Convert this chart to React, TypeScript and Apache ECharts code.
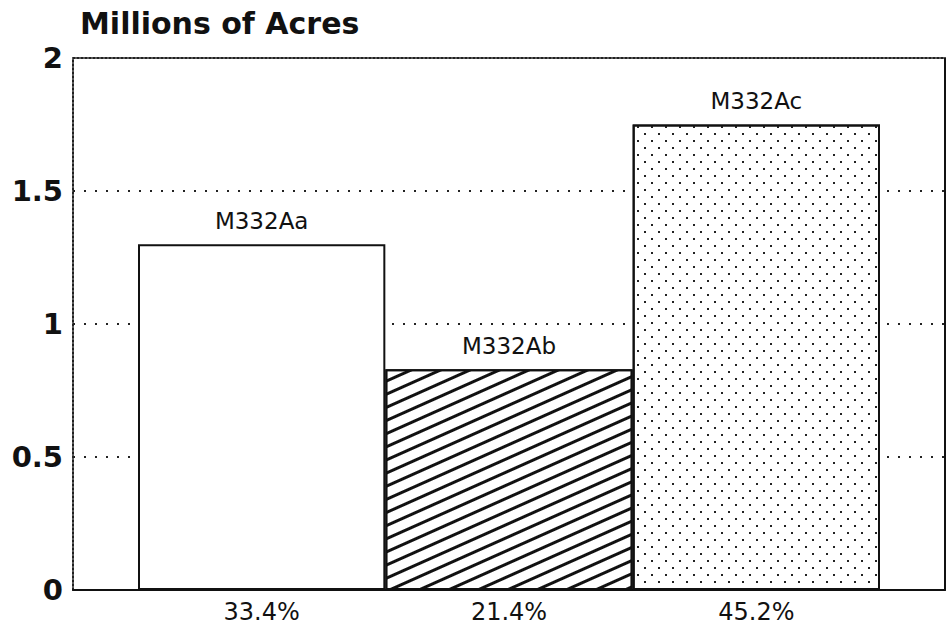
import React, { useEffect, useRef } from "react";
import * as echarts from "echarts";

const categories = ["M332Aa", "M332Ab", "M332Ac"];
const percentLabels = ["33.4%", "21.4%", "45.2%"];
const acres = [1.3, 0.83, 1.75];
const yTitle = "Millions of Acres";

export default function App() {
  const ref = useRef<HTMLDivElement>(null);
  useEffect(() => {
    if (!ref.current) return;
    const chart = echarts.init(ref.current, null, { renderer: "svg" });
    const fills = [
      { color: "#ffffff" },
      {
        color: "#ffffff",
        decal: {
          symbol: "rect",
          symbolSize: 1,
          color: "#111111",
          backgroundColor: "#ffffff",
          dashArrayX: [1, 0],
          dashArrayY: [2.2, 8.6],
          rotation: -0.42,
        },
      },
      {
        color: "#ffffff",
        decal: {
          symbol: "rect",
          symbolSize: 1,
          color: "#222222",
          backgroundColor: "#ffffff",
          dashArrayX: [
            [2, 12],
            [0, 7, 2, 5],
          ],
          dashArrayY: [2, 5],
          rotation: 0,
        },
      },
    ];
    const font = "DejaVu Sans";
    chart.setOption({
      animation: false,
      backgroundColor: "#ffffff",
      title: {
        text: yTitle,
        left: 75,
        top: 3,
        textStyle: { fontFamily: font, fontWeight: "bold", fontSize: 30, color: "#111" },
      },
      grid: [
        { left: 73, right: 3, top: 58, bottom: 39 },
        { left: 138, right: 68, top: 58, bottom: 39 },
      ],
      xAxis: [
        {
          gridIndex: 0,
          type: "category",
          data: [""],
          position: "bottom",
          axisLine: { show: true, onZero: false, lineStyle: { color: "#111", width: 2 } },
          axisTick: { show: false },
          axisLabel: { show: false },
          splitLine: { show: false },
        },
        {
          gridIndex: 0,
          type: "category",
          data: [""],
          position: "top",
          axisLine: { show: true, onZero: false, lineStyle: { color: "#222", width: 2, type: [2, 2] } },
          axisTick: { show: false },
          axisLabel: { show: false },
          splitLine: { show: false },
        },
        {
          gridIndex: 1,
          type: "category",
          data: percentLabels,
          position: "bottom",
          axisLine: { show: false, onZero: false },
          axisTick: { show: false },
          axisLabel: { fontFamily: font, fontSize: 24, color: "#111", margin: 10 },
          splitLine: { show: false },
        },
      ],
      yAxis: [
        {
          gridIndex: 0,
          type: "value",
          min: 0,
          max: 2,
          interval: 0.5,
          position: "left",
          axisLine: { show: true, onZero: false, lineStyle: { color: "#222", width: 2, type: [2, 2] } },
          axisTick: { show: false },
          axisLabel: {
            fontFamily: font,
            fontWeight: "bold",
            fontSize: 29,
            color: "#111",
            margin: 10,
          },
          splitLine: {
            show: true,
            showMinLine: false,
            showMaxLine: false,
            lineStyle: { color: "#222", width: 2, type: [2, 9] },
          },
        },
        {
          gridIndex: 0,
          type: "value",
          min: 0,
          max: 2,
          interval: 0.5,
          position: "right",
          axisLine: { show: true, onZero: false, lineStyle: { color: "#111", width: 2 } },
          axisTick: { show: false },
          axisLabel: { show: false },
          splitLine: { show: false },
        },
        {
          gridIndex: 1,
          type: "value",
          min: 0,
          max: 2,
          interval: 0.5,
          show: false,
          splitLine: { show: false },
        },
      ],
      series: [
        {
          type: "bar",
          xAxisIndex: 2,
          yAxisIndex: 2,
          barWidth: "100%",
          barCategoryGap: "0%",
          z: 5,
          data: acres.map((v, i) => ({
            value: v,
            name: categories[i],
            itemStyle: { ...fills[i], borderColor: "#111", borderWidth: 2 },
          })),
          label: {
            show: true,
            position: "top",
            distance: 12,
            formatter: (p: any) => categories[p.dataIndex],
            fontFamily: font,
            fontSize: 23,
            color: "#111",
          },
        },
      ],
    });
    return () => chart.dispose();
  }, []);
  return (
    <div
      ref={ref}
      style={{ position: "fixed", left: 0, top: 0, width: 948, height: 629 }}
    />
  );
}
